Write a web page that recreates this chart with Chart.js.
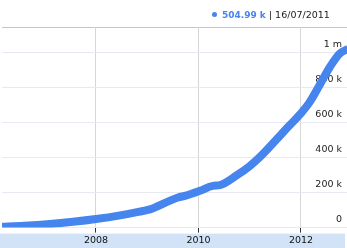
<!DOCTYPE html>
<html lang="en">
<head>
  <meta charset="UTF-8" />
  <title>Growth chart</title>
  <script src="https://cdn.jsdelivr.net/npm/chart.js"></script>
  <style>
    html, body { margin: 0; padding: 0; background: #fff; }
    #wrap { position: relative; width: 347px; height: 248px; }
    #header {
      position: absolute; top: 8px; left: 212px;
      font-family: "DejaVu Sans", sans-serif; font-size: 9.5px;
      color: #222; white-space: nowrap; line-height: 14px;
    }
    #header .dot {
      display: inline-block; width: 5px; height: 5px; border-radius: 50%;
      background: #4684ee; margin-right: 5px; vertical-align: 1px;
    }
    #header .val { color: #4684ee; font-weight: bold; font-size: 9px; }
  </style>
</head>
<body>
  <div id="wrap">
    <canvas id="chart" width="347" height="248"></canvas>
    <div id="header"><span class="dot"></span><span class="val">504.99 k</span> | 16/07/2011</div>
  </div>
  <script>
    // decimal years
    const years = [2006.13, 2006.6, 2007.1, 2007.55, 2008.0, 2008.47, 2008.8, 2009.05, 2009.4, 2009.6,
                   2009.75, 2010.03, 2010.28, 2010.42, 2010.75, 2011.0, 2011.2, 2011.53, 2011.75,
                   2011.98, 2012.17, 2012.37, 2012.57, 2012.76, 2012.92];
    const values = [4000, 10000, 20000, 33000, 49000, 70000, 88000, 104000, 148000, 172000,
                    182000, 210000, 238000, 242000, 299000, 351000, 403000, 505000, 575000,
                    646000, 716000, 817000, 919000, 994000, 1020000];
    const xTicks = [2008, 2010, 2012];
    const yTicks = [0, 200000, 400000, 600000, 800000, 1000000];
    const yTickLabels = ['0', '200 k', '400 k', '600 k', '800 k', '1 m'];

    const decor = {
      id: 'decor',
      beforeDraw(chart) {
        const ctx = chart.ctx, a = chart.chartArea;
        ctx.save();
        ctx.fillStyle = '#d3e3f7';
        ctx.fillRect(0, a.bottom + 6, chart.width - 2, 15);
        ctx.strokeStyle = '#c6c6c6';
        ctx.lineWidth = 1;
        ctx.beginPath();
        ctx.moveTo(a.left, a.top + 0.5);
        ctx.lineTo(chart.width, a.top + 0.5);
        ctx.stroke();
        ctx.restore();
      }
    };

    new Chart(document.getElementById('chart'), {
      type: 'line',
      data: {
        datasets: [{
          data: years.map((y, i) => ({ x: y, y: values[i] })),
          borderColor: '#4684ee',
          borderWidth: 8,
          pointRadius: 0,
          cubicInterpolationMode: 'monotone',
          fill: false
        }]
      },
      options: {
        responsive: false,
        animation: false,
        layout: { autoPadding: false, padding: { top: 27, left: 2, right: 0, bottom: 0 } },
        plugins: { legend: { display: false }, tooltip: { enabled: false } },
        scales: {
          x: {
            type: 'linear',
            bounds: 'data',
            min: 2006.166,
            max: 2012.898,
            afterBuildTicks: s => { s.ticks = xTicks.map(v => ({ value: v })); },
            border: { display: false },
            grid: { color: '#d4d8d4', tickColor: '#333', tickLength: 5 },
            ticks: {
              autoSkip: false, maxRotation: 0, padding: 2, color: '#111',
              font: { family: 'DejaVu Sans', size: 9.5 },
              callback: v => String(v)
            }
          },
          y: {
            position: 'right',
            min: 0,
            max: 1144500,
            afterBuildTicks: s => { s.ticks = yTicks.map(v => ({ value: v })); },
            afterFit: s => { s.width = 0; },
            border: { display: false },
            grid: { color: '#e8e8f2', drawTicks: false, tickLength: 0 },
            ticks: {
              mirror: true, padding: -5, labelOffset: -8, color: '#222',
              font: { family: 'DejaVu Sans', size: 9.5 },
              callback: v => yTickLabels[yTicks.indexOf(v)]
            }
          }
        }
      },
      plugins: [decor]
    });
  </script>
</body>
</html>
